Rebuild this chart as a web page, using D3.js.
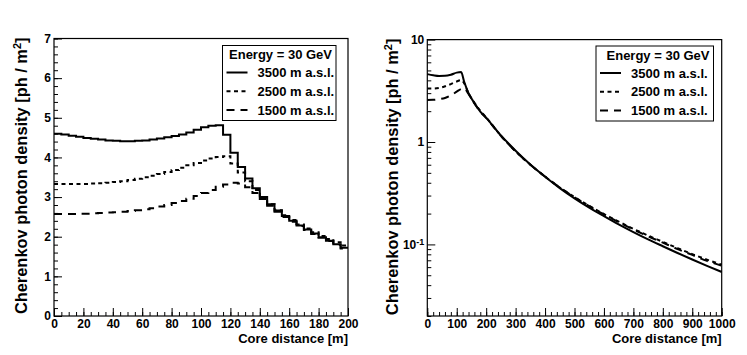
<!DOCTYPE html>
<html>
<head>
<meta charset="utf-8">
<script src="https://cdn.jsdelivr.net/npm/d3@7"></script>
<style>
body { margin: 0; background: #fff; }
svg text { font-family: "Liberation Sans", Arial, Helvetica, sans-serif; font-weight: bold; fill: #000; }
</style>
</head>
<body>
<div id="chartContainer"></div>
<script>
// ---- data ----
var seriesNames = ["3500 m a.s.l.", "2500 m a.s.l.", "1500 m a.s.l."];
var seriesDash = ["none", "4,3.5", "8,6"];
var energyLabel = "Energy = 30 GeV";

// left panel: histogram, 5 m bins from 0 to 200 m (lower bin edges)
var binEdges = d3.range(0, 200, 5);
var left3500 = [4.60, 4.58, 4.55, 4.52, 4.49, 4.47, 4.45, 4.43, 4.42, 4.41,
                4.41, 4.42, 4.43, 4.45, 4.48, 4.51, 4.54, 4.58, 4.63, 4.70,
                4.76, 4.80, 4.81, 4.57, 4.12, 3.76, 3.47, 3.22, 3.00, 2.82,
                2.66, 2.52, 2.40, 2.28, 2.18, 2.08, 1.98, 1.90, 1.81, 1.72];
var left2500 = [3.33, 3.33, 3.33, 3.33, 3.33, 3.34, 3.35, 3.36, 3.38, 3.40,
                3.43, 3.46, 3.50, 3.54, 3.58, 3.63, 3.68, 3.74, 3.80, 3.86,
                3.92, 3.97, 4.01, 4.03, 3.85, 3.62, 3.40, 3.18, 2.99, 2.82,
                2.67, 2.54, 2.42, 2.31, 2.21, 2.11, 2.02, 1.94, 1.86, 1.78];
var left1500 = [2.57, 2.57, 2.57, 2.58, 2.58, 2.59, 2.60, 2.61, 2.62, 2.63,
                2.65, 2.67, 2.69, 2.72, 2.76, 2.80, 2.85, 2.90, 2.96, 3.03,
                3.10, 3.18, 3.26, 3.32, 3.36, 3.34, 3.25, 3.10, 2.95, 2.78,
                2.63, 2.50, 2.38, 2.27, 2.17, 2.07, 1.98, 1.89, 1.80, 1.70];

// right panel: 0 - 1000 m, log scale
var rightDist = [0, 20, 40, 60, 80, 100, 115, 125, 140, 160, 180, 200, 250, 300, 350,
                 400, 450, 500, 550, 600, 650, 700, 750, 800, 850, 900, 950, 1000];
var right3500 = [4.60, 4.49, 4.42, 4.43, 4.54, 4.76, 4.82, 3.90, 3.00, 2.40, 1.98, 1.72, 1.16, 0.823, 0.603,
                 0.458, 0.355, 0.282, 0.229, 0.189, 0.157, 0.132, 0.112, 0.096, 0.0825, 0.0712, 0.0617, 0.0538];
var right2500 = [3.33, 3.33, 3.37, 3.50, 3.68, 3.90, 4.02, 3.75, 2.99, 2.42, 2.02, 1.74, 1.15, 0.81, 0.60,
                 0.46, 0.36, 0.29, 0.238, 0.198, 0.167, 0.142, 0.122, 0.106, 0.092, 0.0805, 0.071, 0.0635];
var right1500 = [2.57, 2.58, 2.62, 2.69, 2.85, 3.10, 3.30, 3.34, 2.95, 2.38, 1.98, 1.72, 1.15, 0.81, 0.60,
                 0.46, 0.36, 0.288, 0.236, 0.196, 0.165, 0.14, 0.12, 0.104, 0.09, 0.079, 0.069, 0.062];

var leftXTicks = d3.range(0, 201, 20);
var leftYTicks = [0, 1, 2, 3, 4, 5, 6, 7];
var rightXTicks = d3.range(0, 1001, 100);
var rightYTicks = [0.1, 1, 10];

var yTitle = "Cherenkov photon density [ph / m";
var xTitle = "Core distance [m]";

// ---- drawing ----
var svg = d3.select("#chartContainer").append("svg")
  .attr("width", 747)
  .attr("height", 355);

function drawPanel(p) {
  var x = p.x, y = p.y;
  var X0 = x.range()[0], X1 = x.range()[1], Y0 = y.range()[0], Y1 = y.range()[1];
  var g = svg.append("g");

  // minor ticks (inside frame)
  g.append("g").attr("transform", "translate(0," + Y0 + ")")
    .call(d3.axisBottom(x).tickValues(p.xMinor).tickSize(-4).tickFormat(""));
  g.append("g").attr("transform", "translate(" + X0 + ",0)")
    .call(d3.axisLeft(y).tickValues(p.yMinor).tickSize(-4).tickFormat(""));

  // major ticks with labels
  var xa = g.append("g").attr("transform", "translate(0," + Y0 + ")")
    .call(d3.axisBottom(x).tickValues(p.xTicks).tickSize(-8).tickPadding(3).tickFormat(d3.format("d")));
  var ya = g.append("g").attr("transform", "translate(" + X0 + ",0)")
    .call(d3.axisLeft(y).tickValues(p.yTicks).tickSize(-8).tickPadding(3).tickFormat(p.yFormat || d3.format("d")));

  g.selectAll(".domain").remove();
  g.selectAll(".tick line").attr("stroke", "#000").attr("stroke-width", 1);
  g.selectAll("g").attr("font-family", null).attr("font-size", null);
  g.selectAll(".tick text").style("font-size", "12px");
  if (p.fixY) p.fixY(ya);

  // frame
  g.append("rect")
    .attr("x", X0).attr("y", Y1)
    .attr("width", X1 - X0).attr("height", Y0 - Y1)
    .attr("fill", "none").attr("stroke", "#000").attr("stroke-width", 1.2);

  // curves
  g.selectAll(".series").data(p.series).enter().append("path")
    .attr("class", "series")
    .attr("d", function (s) { return p.line(s); })
    .attr("fill", "none")
    .attr("stroke", "#000")
    .attr("stroke-width", 2)
    .attr("stroke-dasharray", function (s, i) { return seriesDash[i]; });

  // axis titles
  g.append("text")
    .attr("x", X1).attr("y", 343)
    .attr("text-anchor", "end")
    .style("font-size", "13px")
    .text(xTitle);

  var yt = g.append("text")
    .attr("transform", "translate(" + p.titleX + "," + (Y1 - 1) + ") rotate(-90)")
    .attr("text-anchor", "end")
    .style("font-size", "16.4px");
  yt.append("tspan").text(yTitle);
  yt.append("tspan").attr("dy", -6).style("font-size", "11px").text("2");
  yt.append("tspan").attr("dy", 6).text("]");

  // legend
  var L = p.legend;
  g.append("rect")
    .attr("x", L.x).attr("y", L.y)
    .attr("width", L.w).attr("height", L.h)
    .attr("fill", "#fff").attr("stroke", "#000").attr("stroke-width", 1);
  g.append("text")
    .attr("x", L.x + L.w - 4).attr("y", L.y + 13.5)
    .attr("text-anchor", "end")
    .style("font-size", "13px")
    .text(energyLabel);
  seriesNames.forEach(function (name, i) {
    var by = L.y + 31.5 + i * 18.8;
    g.append("line")
      .attr("x1", L.x + 4).attr("x2", L.x + 25)
      .attr("y1", by - 4.5).attr("y2", by - 4.5)
      .attr("stroke", "#000").attr("stroke-width", 2)
      .attr("stroke-dasharray", seriesDash[i]);
    g.append("text")
      .attr("x", L.x + 35).attr("y", by)
      .style("font-size", "13px")
      .text(name);
  });
}

// left panel
var xL = d3.scaleLinear().domain([0, 200]).range([54, 348]);
var yL = d3.scaleLinear().domain([0, 7]).range([316, 38.5]);
var histLine = d3.line()
  .x(function (d) { return xL(d.x); })
  .y(function (d) { return yL(d.y); })
  .curve(d3.curveStepAfter);
function histPoints(vals) {
  var pts = binEdges.map(function (e, i) { return { x: e, y: vals[i] }; });
  pts.push({ x: 200, y: vals[vals.length - 1] });
  return pts;
}

drawPanel({
  x: xL, y: yL,
  xTicks: leftXTicks, yTicks: leftYTicks,
  xMinor: d3.range(0, 201, 5),
  yMinor: d3.range(0, 7.01, 0.2),
  series: [histPoints(left3500), histPoints(left2500), histPoints(left1500)],
  line: histLine,
  titleX: 27,
  legend: { x: 222.5, y: 45.5, w: 113.5, h: 75 }
});

// right panel
var xR = d3.scaleLinear().domain([0, 1000]).range([427.3, 721.7]);
var yR = d3.scaleLog().domain([0.02, 10]).range([316, 39.6]);
var smoothLine = d3.line()
  .x(function (d) { return xR(d.x); })
  .y(function (d) { return yR(d.y); })
  .curve(d3.curveMonotoneX);
function curvePoints(vals) {
  return rightDist.map(function (dd, i) { return { x: dd, y: vals[i] }; });
}
var logMinor = [];
[0.01, 0.1, 1].forEach(function (dec) {
  for (var k = 2; k <= 9; k++) {
    var v = dec * k;
    if (v >= 0.02 && v <= 10) logMinor.push(v);
  }
});

drawPanel({
  x: xR, y: yR,
  xTicks: rightXTicks, yTicks: rightYTicks,
  xMinor: d3.range(0, 1001, 20),
  yMinor: logMinor,
  yFormat: function (d) { return d >= 1 ? String(d) : ""; },
  fixY: function (ya) {
    ya.selectAll(".tick").filter(function (d) { return d < 1; }).select("text")
      .each(function () {
        var t = d3.select(this);
        t.append("tspan").text("10");
        t.append("tspan").attr("dy", "-0.45em").style("font-size", "9px").text("-1");
      });
  },
  series: [curvePoints(right3500), curvePoints(right2500), curvePoints(right1500)],
  line: smoothLine,
  titleX: 398,
  legend: { x: 596, y: 46, w: 117.5, h: 75 }
});
</script>
</body>
</html>
